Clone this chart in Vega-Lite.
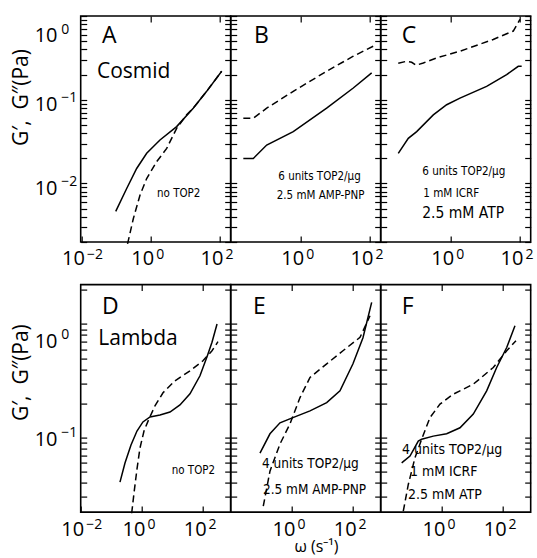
{
  "$schema": "https://vega.github.io/schema/vega-lite/v6.json",
  "background": "white",
  "padding": {"left": 9.7, "top": 14, "right": 0, "bottom": 3},
  "config": {
    "view": {"stroke": "black", "strokeWidth": 1.6},
    "axis": {"domain": false, "grid": false, "tickColor": "black", "tickWidth": 1.2, "labelColor": "black", "titleColor": "black", "labelFont": "Open Sans", "titleFont": "Open Sans", "titleFontWeight": "normal", "labelFlush": false, "labelOverlap": false, "labelBound": false},
    "text": {"font": "Open Sans", "color": "black"},
    "line": {"color": "black", "strokeWidth": 1.5, "clip": true}
  },
  "datasets": {
    "curves": [
      {"p": "A", "s": "Gp", "w": 0.098, "g": 0.00465},
      {"p": "A", "s": "Gp", "w": 0.203, "g": 0.0087},
      {"p": "A", "s": "Gp", "w": 0.394, "g": 0.0151},
      {"p": "A", "s": "Gp", "w": 0.767, "g": 0.0229},
      {"p": "A", "s": "Gp", "w": 1.855, "g": 0.0331},
      {"p": "A", "s": "Gp", "w": 5.62, "g": 0.0478},
      {"p": "A", "s": "Gp", "w": 16.9, "g": 0.0793},
      {"p": "A", "s": "Gp", "w": 41.3, "g": 0.126},
      {"p": "A", "s": "Gp", "w": 112, "g": 0.219},
      {"p": "A", "s": "Gpp", "w": 0.215, "g": 0.0019},
      {"p": "A", "s": "Gpp", "w": 0.315, "g": 0.00379},
      {"p": "A", "s": "Gpp", "w": 0.491, "g": 0.00724},
      {"p": "A", "s": "Gpp", "w": 0.767, "g": 0.01145},
      {"p": "A", "s": "Gpp", "w": 1.49, "g": 0.0182},
      {"p": "A", "s": "Gpp", "w": 2.9, "g": 0.0262},
      {"p": "A", "s": "Gpp", "w": 5.62, "g": 0.0456},
      {"p": "A", "s": "Gpp", "w": 10.9, "g": 0.066},
      {"p": "A", "s": "Gpp", "w": 16.9, "g": 0.0793},
      {"p": "A", "s": "Gpp", "w": 41.3, "g": 0.126},
      {"p": "A", "s": "Gpp", "w": 112, "g": 0.219},
      {"p": "B", "s": "Gp", "w": 0.0221, "g": 0.0199},
      {"p": "B", "s": "Gp", "w": 0.0429, "g": 0.0199},
      {"p": "B", "s": "Gp", "w": 0.1045, "g": 0.0288},
      {"p": "B", "s": "Gp", "w": 0.611, "g": 0.0416},
      {"p": "B", "s": "Gp", "w": 5.62, "g": 0.0793},
      {"p": "B", "s": "Gp", "w": 33.0, "g": 0.138},
      {"p": "B", "s": "Gp", "w": 112, "g": 0.209},
      {"p": "B", "s": "Gpp", "w": 0.0221, "g": 0.0601},
      {"p": "B", "s": "Gpp", "w": 0.0429, "g": 0.0601},
      {"p": "B", "s": "Gpp", "w": 0.1045, "g": 0.0793},
      {"p": "B", "s": "Gpp", "w": 0.611, "g": 0.126},
      {"p": "B", "s": "Gpp", "w": 5.62, "g": 0.219},
      {"p": "B", "s": "Gpp", "w": 33.0, "g": 0.331},
      {"p": "B", "s": "Gpp", "w": 124, "g": 0.436},
      {"p": "C", "s": "Gp", "w": 0.0307, "g": 0.0229},
      {"p": "C", "s": "Gp", "w": 0.0598, "g": 0.0346},
      {"p": "C", "s": "Gp", "w": 0.1045, "g": 0.0416},
      {"p": "C", "s": "Gp", "w": 0.315, "g": 0.066},
      {"p": "C", "s": "Gp", "w": 0.767, "g": 0.0871},
      {"p": "C", "s": "Gp", "w": 1.855, "g": 0.1045},
      {"p": "C", "s": "Gp", "w": 10.9, "g": 0.1445},
      {"p": "C", "s": "Gp", "w": 41.3, "g": 0.1995},
      {"p": "C", "s": "Gp", "w": 89.3, "g": 0.251},
      {"p": "C", "s": "Gp", "w": 112, "g": 0.251},
      {"p": "C", "s": "Gpp", "w": 0.0307, "g": 0.273},
      {"p": "C", "s": "Gpp", "w": 0.0537, "g": 0.288},
      {"p": "C", "s": "Gpp", "w": 0.0749, "g": 0.28},
      {"p": "C", "s": "Gpp", "w": 0.0997, "g": 0.258},
      {"p": "C", "s": "Gpp", "w": 0.162, "g": 0.275},
      {"p": "C", "s": "Gpp", "w": 0.394, "g": 0.316},
      {"p": "C", "s": "Gpp", "w": 1.855, "g": 0.38},
      {"p": "C", "s": "Gpp", "w": 16.9, "g": 0.525},
      {"p": "C", "s": "Gpp", "w": 64.1, "g": 0.661},
      {"p": "C", "s": "Gpp", "w": 100, "g": 0.912},
      {"p": "D", "s": "Gp", "w": 0.192, "g": 0.0406},
      {"p": "D", "s": "Gp", "w": 0.28, "g": 0.0597},
      {"p": "D", "s": "Gp", "w": 0.44, "g": 0.0861},
      {"p": "D", "s": "Gp", "w": 0.69, "g": 0.1143},
      {"p": "D", "s": "Gp", "w": 1.08, "g": 0.1374},
      {"p": "D", "s": "Gp", "w": 1.84, "g": 0.152},
      {"p": "D", "s": "Gp", "w": 3.9, "g": 0.158},
      {"p": "D", "s": "Gp", "w": 8.26, "g": 0.168},
      {"p": "D", "s": "Gp", "w": 17.5, "g": 0.194},
      {"p": "D", "s": "Gp", "w": 37.2, "g": 0.243},
      {"p": "D", "s": "Gp", "w": 78.9, "g": 0.35},
      {"p": "D", "s": "Gp", "w": 134, "g": 0.514},
      {"p": "D", "s": "Gp", "w": 195, "g": 0.69},
      {"p": "D", "s": "Gp", "w": 285, "g": 1.0},
      {"p": "D", "s": "Gpp", "w": 0.463, "g": 0.0216},
      {"p": "D", "s": "Gpp", "w": 0.551, "g": 0.0324},
      {"p": "D", "s": "Gpp", "w": 0.69, "g": 0.0528},
      {"p": "D", "s": "Gpp", "w": 0.865, "g": 0.0809},
      {"p": "D", "s": "Gpp", "w": 1.17, "g": 0.1143},
      {"p": "D", "s": "Gpp", "w": 1.7, "g": 0.146},
      {"p": "D", "s": "Gpp", "w": 2.67, "g": 0.19},
      {"p": "D", "s": "Gpp", "w": 4.89, "g": 0.248},
      {"p": "D", "s": "Gpp", "w": 12.0, "g": 0.316},
      {"p": "D", "s": "Gpp", "w": 37.2, "g": 0.387},
      {"p": "D", "s": "Gpp", "w": 98.9, "g": 0.474},
      {"p": "D", "s": "Gpp", "w": 195, "g": 0.581},
      {"p": "D", "s": "Gpp", "w": 306, "g": 0.698},
      {"p": "E", "s": "Gp", "w": 0.0906, "g": 0.073},
      {"p": "E", "s": "Gp", "w": 0.192, "g": 0.108},
      {"p": "E", "s": "Gp", "w": 0.408, "g": 0.135},
      {"p": "E", "s": "Gp", "w": 1.08, "g": 0.15},
      {"p": "E", "s": "Gp", "w": 3.9, "g": 0.172},
      {"p": "E", "s": "Gp", "w": 13.7, "g": 0.203},
      {"p": "E", "s": "Gp", "w": 37.2, "g": 0.258},
      {"p": "E", "s": "Gp", "w": 98.9, "g": 0.446},
      {"p": "E", "s": "Gp", "w": 210, "g": 0.757},
      {"p": "E", "s": "Gp", "w": 404, "g": 1.55},
      {"p": "E", "s": "Gpp", "w": 0.116, "g": 0.0249},
      {"p": "E", "s": "Gpp", "w": 0.192, "g": 0.0507},
      {"p": "E", "s": "Gpp", "w": 0.408, "g": 0.0878},
      {"p": "E", "s": "Gpp", "w": 0.865, "g": 0.132},
      {"p": "E", "s": "Gpp", "w": 1.84, "g": 0.225},
      {"p": "E", "s": "Gpp", "w": 3.9, "g": 0.338},
      {"p": "E", "s": "Gpp", "w": 13.7, "g": 0.446},
      {"p": "E", "s": "Gpp", "w": 46.6, "g": 0.581},
      {"p": "E", "s": "Gpp", "w": 168, "g": 0.762},
      {"p": "E", "s": "Gpp", "w": 356, "g": 1.18},
      {"p": "F", "s": "Gp", "w": 0.0485, "g": 0.06},
      {"p": "F", "s": "Gp", "w": 0.0906, "g": 0.0688},
      {"p": "F", "s": "Gp", "w": 0.169, "g": 0.0933},
      {"p": "F", "s": "Gp", "w": 0.218, "g": 0.0966},
      {"p": "F", "s": "Gp", "w": 0.522, "g": 0.103},
      {"p": "F", "s": "Gp", "w": 1.43, "g": 0.108},
      {"p": "F", "s": "Gp", "w": 3.9, "g": 0.122},
      {"p": "F", "s": "Gp", "w": 10.6, "g": 0.161},
      {"p": "F", "s": "Gp", "w": 29.0, "g": 0.258},
      {"p": "F", "s": "Gp", "w": 61.6, "g": 0.414},
      {"p": "F", "s": "Gp", "w": 131, "g": 0.621},
      {"p": "F", "s": "Gp", "w": 244, "g": 0.966},
      {"p": "F", "s": "Gpp", "w": 0.0547, "g": 0.0225},
      {"p": "F", "s": "Gpp", "w": 0.0798, "g": 0.0387},
      {"p": "F", "s": "Gpp", "w": 0.132, "g": 0.0665},
      {"p": "F", "s": "Gpp", "w": 0.218, "g": 0.0966},
      {"p": "F", "s": "Gpp", "w": 0.408, "g": 0.15},
      {"p": "F", "s": "Gpp", "w": 0.865, "g": 0.197},
      {"p": "F", "s": "Gpp", "w": 2.35, "g": 0.241},
      {"p": "F", "s": "Gpp", "w": 10.6, "g": 0.295},
      {"p": "F", "s": "Gpp", "w": 47.7, "g": 0.414},
      {"p": "F", "s": "Gpp", "w": 131, "g": 0.581},
      {"p": "F", "s": "Gpp", "w": 263, "g": 0.713}
    ],
    "notes": [
      {"p": "A", "k": "letter", "t": "A", "w": 0.0393, "g": 0.575},
      {"p": "A", "k": "name", "t": "Cosmid", "w": 0.0282, "g": 0.214},
      {"p": "A", "k": "c12", "t": "no TOP2", "w": 1.52, "g": 0.0075},
      {"p": "B", "k": "letter", "t": "B", "w": 0.0449, "g": 0.575},
      {"p": "B", "k": "c13", "t": "6 units TOP2/μg", "w": 0.226, "g": 0.012},
      {"p": "B", "k": "c13", "t": "2.5 mM AMP-PNP", "w": 0.203, "g": 0.0071},
      {"p": "C", "k": "letter", "t": "C", "w": 0.0385, "g": 0.575},
      {"p": "C", "k": "c13", "t": "6 units TOP2/μg", "w": 0.151, "g": 0.0138},
      {"p": "C", "k": "c13", "t": "1 mM ICRF", "w": 0.162, "g": 0.0075},
      {"p": "C", "k": "c15", "t": "2.5 mM ATP", "w": 0.151, "g": 0.00448},
      {"p": "D", "k": "letter", "t": "D", "w": 0.0497, "g": 1.4},
      {"p": "D", "k": "name", "t": "Lambda", "w": 0.0376, "g": 0.742},
      {"p": "D", "k": "c12", "t": "no TOP2", "w": 9.4, "g": 0.0507},
      {"p": "E", "k": "letter", "t": "E", "w": 0.0536, "g": 1.4},
      {"p": "E", "k": "c15", "t": "4 units TOP2/μg", "w": 0.1055, "g": 0.0585},
      {"p": "E", "k": "c15", "t": "2.5 mM AMP-PNP", "w": 0.1135, "g": 0.0344},
      {"p": "F", "k": "letter", "t": "F", "w": 0.0485, "g": 1.4},
      {"p": "F", "k": "c15", "t": "4 units TOP2/μg", "w": 0.0497, "g": 0.0777},
      {"p": "F", "k": "c15", "t": "1 mM ICRF", "w": 0.0906, "g": 0.0497},
      {"p": "F", "k": "c15", "t": "2.5 mM ATP", "w": 0.078, "g": 0.0311}
    ]
  },
  "columns": 3,
  "spacing": {"row": 42.6, "column": 0},
  "bounds": "flush",
  "concat": [
    {
      "width": 150, "height": 226,
      "resolve": {"axis": {"x": "independent", "y": "independent"}},
      "layer": [
        {
          "data": {"name": "curves"},
          "transform": [{"filter": "datum.p==='A' && datum.s==='Gp'"}],
          "mark": {"type": "line"},
          "encoding": {
            "x": {"field": "w", "type": "quantitative", "scale": {"type": "log", "domain": [0.00955, 204], "nice": false},
              "axis": {"orient": "bottom", "values": [0.01, 1, 100], "tickSize": -6, "labelPadding": 28, "labelExpr": "'10'", "labelAlign": "right", "labelBaseline": "alphabetic", "labelOffset": 3, "labelFontSize": 20, "title": null}},
            "y": {"field": "g", "type": "quantitative", "scale": {"type": "log", "domain": [0.002, 1], "nice": false},
              "axis": {"orient": "left", "values": [0.002,0.003,0.004,0.005,0.006,0.007,0.008,0.009,0.01,0.02,0.03,0.04,0.05,0.06,0.07,0.08,0.09,0.1,0.2,0.3,0.4,0.5,0.6,0.7,0.8,0.9,1], "tickSize": -6, "labelPadding": 29.7, "labelExpr": "datum.value===0.01||datum.value===0.1||datum.value===1?'10':''", "labelAlign": "right", "labelBaseline": "alphabetic", "labelOffset": {"condition": {"test": "datum.value>0.99", "value": 25}, "value": 11}, "labelFontSize": 20, "title": "G′,\u00a0 G″(Pa)", "titleX": -59, "titleY": 81, "titleAngle": 270, "titleAlign": "center", "titleBaseline": "middle", "titleFontSize": 21}}
          }
        },
        {
          "data": {"name": "curves"},
          "transform": [{"filter": "datum.p==='A' && datum.s==='Gpp'"}],
          "mark": {"type": "line", "strokeDash": [7, 4]},
          "encoding": {
            "x": {"field": "w", "type": "quantitative", "scale": {"type": "log", "domain": [0.00955, 204], "nice": false},
              "axis": {"orient": "top", "values": [1, 100], "tickSize": -6, "labels": false, "title": null}},
            "y": {"field": "g", "type": "quantitative", "scale": {"type": "log", "domain": [0.002, 1], "nice": false},
              "axis": {"orient": "right", "values": [0.002,0.003,0.004,0.005,0.006,0.007,0.008,0.009,0.01,0.02,0.03,0.04,0.05,0.06,0.07,0.08,0.09,0.1,0.2,0.3,0.4,0.5,0.6,0.7,0.8,0.9,1], "tickSize": -6, "labels": false, "title": null}}
          }
        },
        {
          "data": {"name": "notes"},
          "transform": [{"filter": "datum.p==='A' && datum.k==='letter'"}],
          "mark": {"type": "text", "align": "left", "baseline": "middle", "fontSize": 23},
          "encoding": {
            "x": {"field": "w", "type": "quantitative", "scale": {"type": "log", "domain": [0.00955, 204], "nice": false},
              "axis": {"orient": "bottom", "values": [0.01, 1, 100], "ticks": false, "labelPadding": 16, "labelExpr": "datum.value<0.1?'−2':datum.value<10?'0':'2'", "labelAlign": "left", "labelBaseline": "alphabetic", "labelOffset": 5, "labelFontSize": 14, "title": null}},
            "y": {"field": "g", "type": "quantitative", "scale": {"type": "log", "domain": [0.002, 1], "nice": false},
              "axis": {"orient": "left", "values": [0.01, 0.1, 1], "ticks": false, "labelPadding": 20, "labelExpr": "datum.value<0.05?'−2':datum.value<0.5?'−1':'0'", "labelAlign": "left", "labelBaseline": "alphabetic", "labelOffset": {"condition": {"test": "datum.value>0.99", "value": 17}, "value": 2}, "labelFontSize": 14, "title": null}},
            "text": {"field": "t"}
          }
        },
        {
          "data": {"name": "notes"},
          "transform": [{"filter": "datum.p==='A' && datum.k==='name'"}],
          "mark": {"type": "text", "align": "left", "baseline": "middle", "fontSize": 21},
          "encoding": {
            "x": {"field": "w", "type": "quantitative", "scale": {"type": "log", "domain": [0.00955, 204], "nice": false}, "axis": null},
            "y": {"field": "g", "type": "quantitative", "scale": {"type": "log", "domain": [0.002, 1], "nice": false}, "axis": null},
            "text": {"field": "t"}
          }
        },
        {
          "data": {"name": "notes"},
          "transform": [{"filter": "datum.p==='A' && datum.k==='c12'"}],
          "mark": {"type": "text", "align": "left", "baseline": "middle", "fontSize": 11.5, "font": "Liberation Sans Narrow, DejaVu Sans Condensed, Roboto, sans-serif"},
          "encoding": {
            "x": {"field": "w", "type": "quantitative", "scale": {"type": "log", "domain": [0.00955, 204], "nice": false}, "axis": null},
            "y": {"field": "g", "type": "quantitative", "scale": {"type": "log", "domain": [0.002, 1], "nice": false}, "axis": null},
            "text": {"field": "t"}
          }
        }
      ]
    },
    {
      "width": 150, "height": 226,
      "resolve": {"axis": {"x": "independent", "y": "independent"}},
      "layer": [
        {
          "data": {"name": "curves"},
          "transform": [{"filter": "datum.p==='B' && datum.s==='Gp'"}],
          "mark": {"type": "line"},
          "encoding": {
            "x": {"field": "w", "type": "quantitative", "scale": {"type": "log", "domain": [0.00955, 204], "nice": false},
              "axis": {"orient": "bottom", "values": [1, 100], "tickSize": -6, "labelPadding": 28, "labelExpr": "'10'", "labelAlign": "right", "labelBaseline": "alphabetic", "labelOffset": 3, "labelFontSize": 20, "title": null}},
            "y": {"field": "g", "type": "quantitative", "scale": {"type": "log", "domain": [0.002, 1], "nice": false},
              "axis": {"orient": "left", "values": [0.002,0.003,0.004,0.005,0.006,0.007,0.008,0.009,0.01,0.02,0.03,0.04,0.05,0.06,0.07,0.08,0.09,0.1,0.2,0.3,0.4,0.5,0.6,0.7,0.8,0.9,1], "tickSize": -6, "labels": false, "title": null}}
          }
        },
        {
          "data": {"name": "curves"},
          "transform": [{"filter": "datum.p==='B' && datum.s==='Gpp'"}],
          "mark": {"type": "line", "strokeDash": [7, 4]},
          "encoding": {
            "x": {"field": "w", "type": "quantitative", "scale": {"type": "log", "domain": [0.00955, 204], "nice": false},
              "axis": {"orient": "top", "values": [1, 100], "tickSize": -6, "labels": false, "title": null}},
            "y": {"field": "g", "type": "quantitative", "scale": {"type": "log", "domain": [0.002, 1], "nice": false},
              "axis": {"orient": "right", "values": [0.002,0.003,0.004,0.005,0.006,0.007,0.008,0.009,0.01,0.02,0.03,0.04,0.05,0.06,0.07,0.08,0.09,0.1,0.2,0.3,0.4,0.5,0.6,0.7,0.8,0.9,1], "tickSize": -6, "labels": false, "title": null}}
          }
        },
        {
          "data": {"name": "notes"},
          "transform": [{"filter": "datum.p==='B' && datum.k==='letter'"}],
          "mark": {"type": "text", "align": "left", "baseline": "middle", "fontSize": 23},
          "encoding": {
            "x": {"field": "w", "type": "quantitative", "scale": {"type": "log", "domain": [0.00955, 204], "nice": false},
              "axis": {"orient": "bottom", "values": [1, 100], "ticks": false, "labelPadding": 16, "labelExpr": "datum.value<10?'0':'2'", "labelAlign": "left", "labelBaseline": "alphabetic", "labelOffset": 5, "labelFontSize": 14, "title": null}},
            "y": {"field": "g", "type": "quantitative", "scale": {"type": "log", "domain": [0.002, 1], "nice": false}, "axis": null},
            "text": {"field": "t"}
          }
        },
        {
          "data": {"name": "notes"},
          "transform": [{"filter": "datum.p==='B' && datum.k==='c13'"}],
          "mark": {"type": "text", "align": "left", "baseline": "middle", "fontSize": 11.5, "font": "Liberation Sans Narrow, DejaVu Sans Condensed, Roboto, sans-serif"},
          "encoding": {
            "x": {"field": "w", "type": "quantitative", "scale": {"type": "log", "domain": [0.00955, 204], "nice": false}, "axis": null},
            "y": {"field": "g", "type": "quantitative", "scale": {"type": "log", "domain": [0.002, 1], "nice": false}, "axis": null},
            "text": {"field": "t"}
          }
        }
      ]
    },
    {
      "width": 150, "height": 226,
      "resolve": {"axis": {"x": "independent", "y": "independent"}},
      "layer": [
        {
          "data": {"name": "curves"},
          "transform": [{"filter": "datum.p==='C' && datum.s==='Gp'"}],
          "mark": {"type": "line"},
          "encoding": {
            "x": {"field": "w", "type": "quantitative", "scale": {"type": "log", "domain": [0.00955, 204], "nice": false},
              "axis": {"orient": "bottom", "values": [1, 100], "tickSize": -6, "labelPadding": 28, "labelExpr": "'10'", "labelAlign": "right", "labelBaseline": "alphabetic", "labelOffset": 3, "labelFontSize": 20, "title": null}},
            "y": {"field": "g", "type": "quantitative", "scale": {"type": "log", "domain": [0.002, 1], "nice": false},
              "axis": {"orient": "left", "values": [0.002,0.003,0.004,0.005,0.006,0.007,0.008,0.009,0.01,0.02,0.03,0.04,0.05,0.06,0.07,0.08,0.09,0.1,0.2,0.3,0.4,0.5,0.6,0.7,0.8,0.9,1], "tickSize": -6, "labels": false, "title": null}}
          }
        },
        {
          "data": {"name": "curves"},
          "transform": [{"filter": "datum.p==='C' && datum.s==='Gpp'"}],
          "mark": {"type": "line", "strokeDash": [7, 4]},
          "encoding": {
            "x": {"field": "w", "type": "quantitative", "scale": {"type": "log", "domain": [0.00955, 204], "nice": false},
              "axis": {"orient": "top", "values": [1, 100], "tickSize": -6, "labels": false, "title": null}},
            "y": {"field": "g", "type": "quantitative", "scale": {"type": "log", "domain": [0.002, 1], "nice": false},
              "axis": {"orient": "right", "values": [0.002,0.003,0.004,0.005,0.006,0.007,0.008,0.009,0.01,0.02,0.03,0.04,0.05,0.06,0.07,0.08,0.09,0.1,0.2,0.3,0.4,0.5,0.6,0.7,0.8,0.9,1], "tickSize": -6, "labels": false, "title": null}}
          }
        },
        {
          "data": {"name": "notes"},
          "transform": [{"filter": "datum.p==='C' && datum.k==='letter'"}],
          "mark": {"type": "text", "align": "left", "baseline": "middle", "fontSize": 23},
          "encoding": {
            "x": {"field": "w", "type": "quantitative", "scale": {"type": "log", "domain": [0.00955, 204], "nice": false},
              "axis": {"orient": "bottom", "values": [1, 100], "ticks": false, "labelPadding": 16, "labelExpr": "datum.value<10?'0':'2'", "labelAlign": "left", "labelBaseline": "alphabetic", "labelOffset": 5, "labelFontSize": 14, "title": null}},
            "y": {"field": "g", "type": "quantitative", "scale": {"type": "log", "domain": [0.002, 1], "nice": false}, "axis": null},
            "text": {"field": "t"}
          }
        },
        {
          "data": {"name": "notes"},
          "transform": [{"filter": "datum.p==='C' && datum.k==='c13'"}],
          "mark": {"type": "text", "align": "left", "baseline": "middle", "fontSize": 11.6, "font": "Liberation Sans Narrow, DejaVu Sans Condensed, Roboto, sans-serif"},
          "encoding": {
            "x": {"field": "w", "type": "quantitative", "scale": {"type": "log", "domain": [0.00955, 204], "nice": false}, "axis": null},
            "y": {"field": "g", "type": "quantitative", "scale": {"type": "log", "domain": [0.002, 1], "nice": false}, "axis": null},
            "text": {"field": "t"}
          }
        },
        {
          "data": {"name": "notes"},
          "transform": [{"filter": "datum.p==='C' && datum.k==='c15'"}],
          "mark": {"type": "text", "align": "left", "baseline": "middle", "fontSize": 15.5, "font": "Liberation Sans Narrow, DejaVu Sans Condensed, Roboto, sans-serif"},
          "encoding": {
            "x": {"field": "w", "type": "quantitative", "scale": {"type": "log", "domain": [0.00955, 204], "nice": false}, "axis": null},
            "y": {"field": "g", "type": "quantitative", "scale": {"type": "log", "domain": [0.002, 1], "nice": false}, "axis": null},
            "text": {"field": "t"}
          }
        }
      ]
    },
    {
      "width": 150, "height": 227.5,
      "resolve": {"axis": {"x": "independent", "y": "independent"}},
      "layer": [
        {
          "data": {"name": "curves"},
          "transform": [{"filter": "datum.p==='D' && datum.s==='Gp'"}],
          "mark": {"type": "line"},
          "encoding": {
            "x": {"field": "w", "type": "quantitative", "scale": {"type": "log", "domain": [0.01, 796], "nice": false},
              "axis": {"orient": "bottom", "values": [0.01, 1, 100], "tickSize": -6, "labelPadding": 29.8, "labelExpr": "'10'", "labelAlign": "right", "labelBaseline": "alphabetic", "labelOffset": 3, "labelFontSize": 20, "title": null}},
            "y": {"field": "g", "type": "quantitative", "scale": {"type": "log", "domain": [0.0221, 2.22], "nice": false},
              "axis": {"orient": "left", "values": [0.03,0.04,0.05,0.06,0.07,0.08,0.09,0.1,0.2,0.3,0.4,0.5,0.6,0.7,0.8,0.9,1,2], "tickSize": -6, "labelPadding": 29.7, "labelExpr": "datum.value===0.1||datum.value===1?'10':''", "labelAlign": "right", "labelBaseline": "alphabetic", "labelOffset": {"condition": {"test": "datum.value>0.99", "value": 23.7}, "value": 8.3}, "labelFontSize": 20, "title": "G′,\u00a0 G″(Pa)", "titleX": -59, "titleY": 87.5, "titleAngle": 270, "titleAlign": "center", "titleBaseline": "middle", "titleFontSize": 21}}
          }
        },
        {
          "data": {"name": "curves"},
          "transform": [{"filter": "datum.p==='D' && datum.s==='Gpp'"}],
          "mark": {"type": "line", "strokeDash": [7, 4]},
          "encoding": {
            "x": {"field": "w", "type": "quantitative", "scale": {"type": "log", "domain": [0.01, 796], "nice": false},
              "axis": {"orient": "top", "values": [1, 100], "tickSize": -6, "labels": false, "title": null}},
            "y": {"field": "g", "type": "quantitative", "scale": {"type": "log", "domain": [0.0221, 2.22], "nice": false},
              "axis": {"orient": "right", "values": [0.03,0.04,0.05,0.06,0.07,0.08,0.09,0.1,0.2,0.3,0.4,0.5,0.6,0.7,0.8,0.9,1,2], "tickSize": -6, "labels": false, "title": null}}
          }
        },
        {
          "data": {"name": "notes"},
          "transform": [{"filter": "datum.p==='D' && datum.k==='letter'"}],
          "mark": {"type": "text", "align": "left", "baseline": "middle", "fontSize": 23},
          "encoding": {
            "x": {"field": "w", "type": "quantitative", "scale": {"type": "log", "domain": [0.01, 796], "nice": false},
              "axis": {"orient": "bottom", "values": [0.01, 1, 100], "ticks": false, "labelPadding": 16, "labelExpr": "datum.value<0.1?'−2':datum.value<10?'0':'2'", "labelAlign": "left", "labelBaseline": "alphabetic", "labelOffset": 5, "labelFontSize": 14, "title": null}},
            "y": {"field": "g", "type": "quantitative", "scale": {"type": "log", "domain": [0.0221, 2.22], "nice": false},
              "axis": {"orient": "left", "values": [0.1, 1], "ticks": false, "labelPadding": 20, "labelExpr": "datum.value<0.5?'−1':'0'", "labelAlign": "left", "labelBaseline": "alphabetic", "labelOffset": {"condition": {"test": "datum.value>0.99", "value": 14.7}, "value": -0.7}, "labelFontSize": 14, "title": null}},
            "text": {"field": "t"}
          }
        },
        {
          "data": {"name": "notes"},
          "transform": [{"filter": "datum.p==='D' && datum.k==='name'"}],
          "mark": {"type": "text", "align": "left", "baseline": "middle", "fontSize": 21},
          "encoding": {
            "x": {"field": "w", "type": "quantitative", "scale": {"type": "log", "domain": [0.01, 796], "nice": false}, "axis": null},
            "y": {"field": "g", "type": "quantitative", "scale": {"type": "log", "domain": [0.0221, 2.22], "nice": false}, "axis": null},
            "text": {"field": "t"}
          }
        },
        {
          "data": {"name": "notes"},
          "transform": [{"filter": "datum.p==='D' && datum.k==='c12'"}],
          "mark": {"type": "text", "align": "left", "baseline": "middle", "fontSize": 11.5, "font": "Liberation Sans Narrow, DejaVu Sans Condensed, Roboto, sans-serif"},
          "encoding": {
            "x": {"field": "w", "type": "quantitative", "scale": {"type": "log", "domain": [0.01, 796], "nice": false}, "axis": null},
            "y": {"field": "g", "type": "quantitative", "scale": {"type": "log", "domain": [0.0221, 2.22], "nice": false}, "axis": null},
            "text": {"field": "t"}
          }
        }
      ]
    },
    {
      "width": 150, "height": 227.5,
      "resolve": {"axis": {"x": "independent", "y": "independent"}},
      "layer": [
        {
          "data": {"name": "curves"},
          "transform": [{"filter": "datum.p==='E' && datum.s==='Gp'"}],
          "mark": {"type": "line"},
          "encoding": {
            "x": {"field": "w", "type": "quantitative", "scale": {"type": "log", "domain": [0.01, 796], "nice": false},
              "axis": {"orient": "bottom", "values": [1, 100], "tickSize": -6, "labelPadding": 29.8, "labelExpr": "'10'", "labelAlign": "right", "labelBaseline": "alphabetic", "labelOffset": 3, "labelFontSize": 20, "title": "ω (s⁻¹)", "titleX": 85.3, "titleY": 34, "titleAngle": 0, "titleAlign": "center", "titleBaseline": "middle", "titleFontSize": 16}},
            "y": {"field": "g", "type": "quantitative", "scale": {"type": "log", "domain": [0.0221, 2.22], "nice": false},
              "axis": {"orient": "left", "values": [0.03,0.04,0.05,0.06,0.07,0.08,0.09,0.1,0.2,0.3,0.4,0.5,0.6,0.7,0.8,0.9,1,2], "tickSize": -6, "labels": false, "title": null}}
          }
        },
        {
          "data": {"name": "curves"},
          "transform": [{"filter": "datum.p==='E' && datum.s==='Gpp'"}],
          "mark": {"type": "line", "strokeDash": [7, 4]},
          "encoding": {
            "x": {"field": "w", "type": "quantitative", "scale": {"type": "log", "domain": [0.01, 796], "nice": false},
              "axis": {"orient": "top", "values": [1, 100], "tickSize": -6, "labels": false, "title": null}},
            "y": {"field": "g", "type": "quantitative", "scale": {"type": "log", "domain": [0.0221, 2.22], "nice": false},
              "axis": {"orient": "right", "values": [0.03,0.04,0.05,0.06,0.07,0.08,0.09,0.1,0.2,0.3,0.4,0.5,0.6,0.7,0.8,0.9,1,2], "tickSize": -6, "labels": false, "title": null}}
          }
        },
        {
          "data": {"name": "notes"},
          "transform": [{"filter": "datum.p==='E' && datum.k==='letter'"}],
          "mark": {"type": "text", "align": "left", "baseline": "middle", "fontSize": 23},
          "encoding": {
            "x": {"field": "w", "type": "quantitative", "scale": {"type": "log", "domain": [0.01, 796], "nice": false},
              "axis": {"orient": "bottom", "values": [1, 100], "ticks": false, "labelPadding": 16, "labelExpr": "datum.value<10?'0':'2'", "labelAlign": "left", "labelBaseline": "alphabetic", "labelOffset": 5, "labelFontSize": 14, "title": null}},
            "y": {"field": "g", "type": "quantitative", "scale": {"type": "log", "domain": [0.0221, 2.22], "nice": false}, "axis": null},
            "text": {"field": "t"}
          }
        },
        {
          "data": {"name": "notes"},
          "transform": [{"filter": "datum.p==='E' && datum.k==='c15'"}],
          "mark": {"type": "text", "align": "left", "baseline": "middle", "fontSize": 13.5, "font": "Liberation Sans Narrow, DejaVu Sans Condensed, Roboto, sans-serif"},
          "encoding": {
            "x": {"field": "w", "type": "quantitative", "scale": {"type": "log", "domain": [0.01, 796], "nice": false}, "axis": null},
            "y": {"field": "g", "type": "quantitative", "scale": {"type": "log", "domain": [0.0221, 2.22], "nice": false}, "axis": null},
            "text": {"field": "t"}
          }
        }
      ]
    },
    {
      "width": 150, "height": 227.5,
      "resolve": {"axis": {"x": "independent", "y": "independent"}},
      "layer": [
        {
          "data": {"name": "curves"},
          "transform": [{"filter": "datum.p==='F' && datum.s==='Gp'"}],
          "mark": {"type": "line"},
          "encoding": {
            "x": {"field": "w", "type": "quantitative", "scale": {"type": "log", "domain": [0.01, 796], "nice": false},
              "axis": {"orient": "bottom", "values": [1, 100], "tickSize": -6, "labelPadding": 29.8, "labelExpr": "'10'", "labelAlign": "right", "labelBaseline": "alphabetic", "labelOffset": 3, "labelFontSize": 20, "title": null}},
            "y": {"field": "g", "type": "quantitative", "scale": {"type": "log", "domain": [0.0221, 2.22], "nice": false},
              "axis": {"orient": "left", "values": [0.03,0.04,0.05,0.06,0.07,0.08,0.09,0.1,0.2,0.3,0.4,0.5,0.6,0.7,0.8,0.9,1,2], "tickSize": -6, "labels": false, "title": null}}
          }
        },
        {
          "data": {"name": "curves"},
          "transform": [{"filter": "datum.p==='F' && datum.s==='Gpp'"}],
          "mark": {"type": "line", "strokeDash": [7, 4]},
          "encoding": {
            "x": {"field": "w", "type": "quantitative", "scale": {"type": "log", "domain": [0.01, 796], "nice": false},
              "axis": {"orient": "top", "values": [1, 100], "tickSize": -6, "labels": false, "title": null}},
            "y": {"field": "g", "type": "quantitative", "scale": {"type": "log", "domain": [0.0221, 2.22], "nice": false},
              "axis": {"orient": "right", "values": [0.03,0.04,0.05,0.06,0.07,0.08,0.09,0.1,0.2,0.3,0.4,0.5,0.6,0.7,0.8,0.9,1,2], "tickSize": -6, "labels": false, "title": null}}
          }
        },
        {
          "data": {"name": "notes"},
          "transform": [{"filter": "datum.p==='F' && datum.k==='letter'"}],
          "mark": {"type": "text", "align": "left", "baseline": "middle", "fontSize": 23},
          "encoding": {
            "x": {"field": "w", "type": "quantitative", "scale": {"type": "log", "domain": [0.01, 796], "nice": false},
              "axis": {"orient": "bottom", "values": [1, 100], "ticks": false, "labelPadding": 16, "labelExpr": "datum.value<10?'0':'2'", "labelAlign": "left", "labelBaseline": "alphabetic", "labelOffset": 5, "labelFontSize": 14, "title": null}},
            "y": {"field": "g", "type": "quantitative", "scale": {"type": "log", "domain": [0.0221, 2.22], "nice": false}, "axis": null},
            "text": {"field": "t"}
          }
        },
        {
          "data": {"name": "notes"},
          "transform": [{"filter": "datum.p==='F' && datum.k==='c15'"}],
          "mark": {"type": "text", "align": "left", "baseline": "middle", "fontSize": 14, "font": "Liberation Sans Narrow, DejaVu Sans Condensed, Roboto, sans-serif"},
          "encoding": {
            "x": {"field": "w", "type": "quantitative", "scale": {"type": "log", "domain": [0.01, 796], "nice": false}, "axis": null},
            "y": {"field": "g", "type": "quantitative", "scale": {"type": "log", "domain": [0.0221, 2.22], "nice": false}, "axis": null},
            "text": {"field": "t"}
          }
        }
      ]
    }
  ]
}
